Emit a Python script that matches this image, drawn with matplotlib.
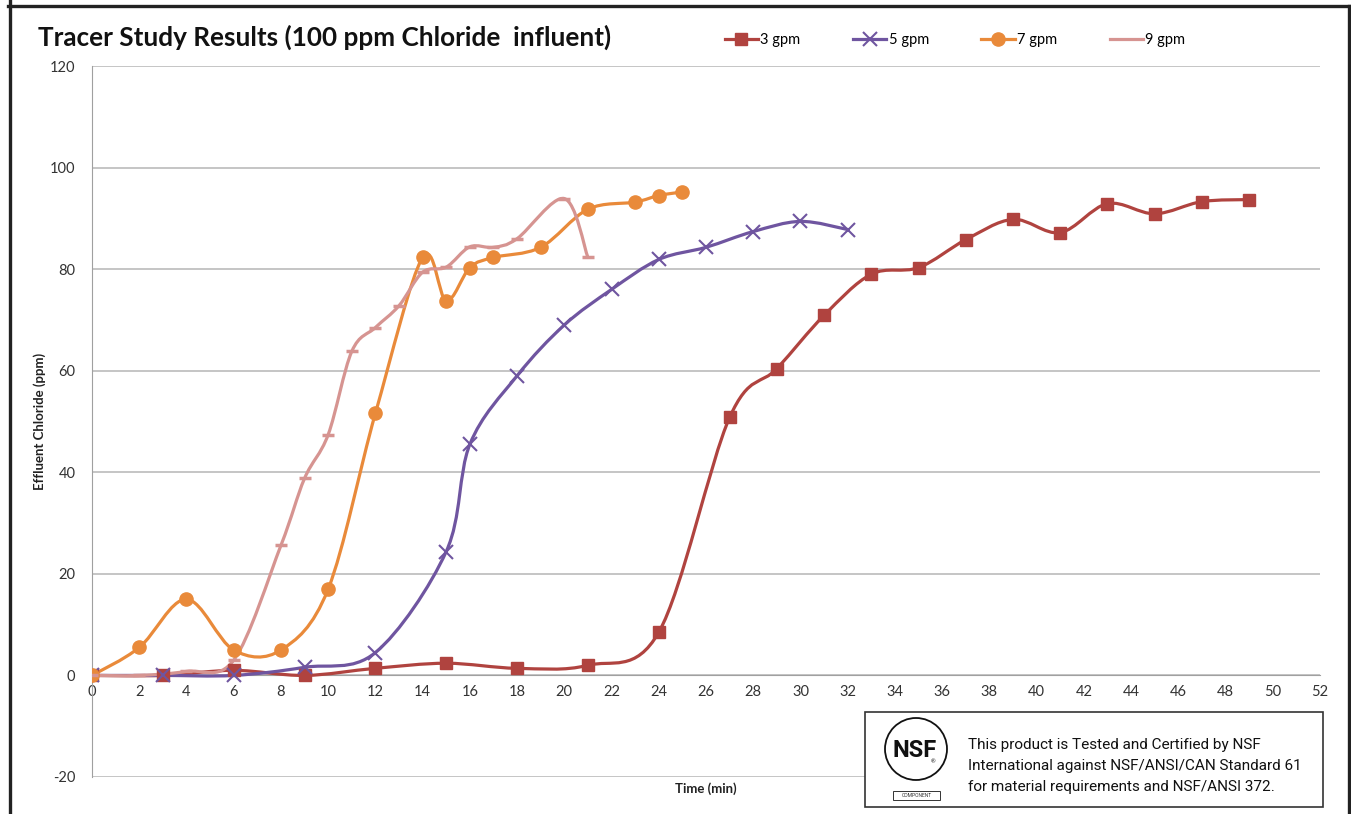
import numpy as np
import matplotlib
matplotlib.use('Agg')
import matplotlib.pyplot as plt
from matplotlib.path import Path
from matplotlib.patches import PathPatch, Rectangle, Circle
from matplotlib.lines import Line2D

# data
t3 = [0, 3, 6, 9, 12, 15, 18, 21, 24, 27, 29, 31, 33, 35, 37, 39, 41, 43, 45, 47, 49]
c3 = [0, 0, 1, 0, 1.4, 2.4, 1.4, 2, 8.5, 50.8, 60.4, 70.9, 79, 80.3, 85.8, 89.8, 87.2, 92.9, 90.9, 93.3, 93.7]

t5 = [0, 3, 6, 9, 12, 15, 16, 18, 20, 22, 24, 26, 28, 30, 32]
c5 = [0, 0, 0, 1.6, 4.5, 24.4, 45.5, 59, 69, 76, 81.9, 84.3, 87.4, 89.4, 87.8]

t7 = [0, 2, 4, 6, 8, 10, 12, 14, 15, 16, 17, 19, 21, 23, 24, 25]
c7 = [0, 5.5, 15, 5, 5, 17, 51.6, 82.3, 73.8, 80.3, 82.3, 84.3, 91.8, 93.2, 94.5, 95.2]

t9 = [0, 2, 4, 6, 8, 9, 10, 11, 12, 13, 14, 15, 16, 17, 18, 20, 21]
c9 = [0, 0, 0.8, 3, 25.6, 38.8, 47.4, 63.8, 68.5, 72.8, 79.4, 80.4, 84.4, 84.3, 86, 93.9, 82.3]

series = [
    ('3 gpm', t3, c3, '#B0433F', 's', 8.5, 1.0),
    ('5 gpm', t5, c5, '#6F55A0', 'x', 9.5, 1.5),
    ('7 gpm', t7, c7, '#E98A3A', 'o', 9.5, 1.0),
    ('9 gpm', t9, c9, '#D69491', '_', 8, 2.5),
]

x_ticks = list(range(0, 53, 2))
y_ticks = list(range(-20, 121, 20))

plt.rcParams['font.family'] = ['Lato', 'DejaVu Sans']
plt.rcParams['axes.unicode_minus'] = False


def smooth_path(x, y):
    # catmull-rom style bezier, like excel's smoothed lines
    pts = np.column_stack([x, y]).astype(float)
    verts = [pts[0]]
    codes = [Path.MOVETO]
    n = len(pts)
    for i in range(n - 1):
        p0 = pts[i - 1] if i > 0 else pts[i]
        p1 = pts[i]
        p2 = pts[i + 1]
        p3 = pts[i + 2] if i + 2 < n else pts[i + 1]
        verts += [p1 + (p2 - p0) / 6.0, p2 - (p3 - p1) / 6.0, p2]
        codes += [Path.CURVE4] * 3
    return Path(verts, codes)


fig = plt.figure(figsize=(13.51, 8.14), dpi=100)
ax = fig.add_axes([92 / 1351, 1 - 777 / 814, (1320 - 92) / 1351, (777 - 66) / 814])

handles = []
for name, tx, cy, col, mk, ms, mew in series:
    patch = PathPatch(smooth_path(tx, cy), facecolor='none', edgecolor=col, lw=2.3,
                      zorder=3, capstyle='round', joinstyle='round')
    ax.add_patch(patch)
    ax.plot(tx, cy, linestyle='none', marker=mk, markersize=ms, color=col,
            markeredgewidth=mew, zorder=4)
    handles.append(Line2D([], [], color=col, lw=2.3, marker=mk if mk != '_' else None,
                          markersize=ms, markeredgewidth=mew))

ax.set_xlim(0, 52)
ax.set_ylim(-20, 120)
ax.set_xticks(x_ticks)
ax.set_yticks(y_ticks)
ax.yaxis.grid(True, color='#B5B5B5', lw=1.1)
ax.set_axisbelow(True)
for s in ['top', 'right']:
    ax.spines[s].set_visible(False)
ax.spines['bottom'].set_position(('data', 0))
ax.spines['bottom'].set_color('#A0A0A0')
ax.spines['left'].set_color('#A0A0A0')
ax.tick_params(axis='both', length=0, labelsize=10.5, colors='#333333')
ax.tick_params(axis='y', pad=12)
ax.tick_params(axis='x', pad=7)

fig.text(706 / 1351, 1 - 789 / 814, 'Time (min)', ha='center', va='center',
         fontsize=9.5, fontweight='bold', color='#222222')
fig.text(40 / 1351, 1 - 421 / 814, 'Effluent Chloride (ppm)', rotation=90,
         ha='center', va='center', fontsize=9.5, fontweight='bold', color='#222222')

fig.text(38 / 1351, 1 - 37 / 814, 'Tracer Study Results (100 ppm Chloride  influent)',
         ha='left', va='center', fontsize=18.8, fontweight='bold', color='#111111')

fig.legend(handles, [s[0] for s in series], loc='center',
           bbox_to_anchor=(955 / 1351, 1 - 40 / 814), ncol=4, frameon=False,
           handlelength=2.3, handletextpad=0.15, columnspacing=3.6, fontsize=10.5)

# outer frame
for xs, ys in [([10, 10], [0, 814]), ([8, 1351], [6, 6]), ([1349, 1349], [6, 814])]:
    fig.add_artist(Line2D([x / 1351 for x in xs], [1 - y / 814 for y in ys],
                          color='#222222', lw=2.4, transform=fig.transFigure))

# NSF certification box
fig.add_artist(Rectangle((865 / 1351, 1 - 807 / 814), (1323 - 865) / 1351, (807 - 712) / 814,
                         transform=fig.transFigure, facecolor='white', edgecolor='#333333',
                         lw=1.2, zorder=5))
ax_logo = fig.add_axes([870 / 1351, 1 - 806 / 814, 92 / 1351, 92 / 814], zorder=6)
ax_logo.set_xlim(0, 92)
ax_logo.set_ylim(806, 714)
ax_logo.set_aspect('equal')
ax_logo.axis('off')
ax_logo.add_patch(Circle((46, 749), 31, facecolor='white', edgecolor='#111111', lw=1.3))
narrow = ['Roboto', 'DejaVu Sans']
ax_logo.text(45, 750, 'NSF', ha='center', va='center', fontsize=17, fontweight='bold',
             family=narrow, color='#111111')
ax_logo.text(63, 762, '®', ha='center', va='center', fontsize=4, color='#111111')
ax_logo.add_patch(Rectangle((23, 791), 47, 9, facecolor='white', edgecolor='#333333', lw=0.7))
ax_logo.text(46.5, 795.5, 'COMPONENT', ha='center', va='center', fontsize=3.6,
             family=narrow, color='#333333')

nsf_lines = ['This product is Tested and Certified by NSF',
             'International against NSF/ANSI/CAN Standard 61',
             'for material requirements and NSF/ANSI 372.']
for i, line in enumerate(nsf_lines):
    fig.text(968 / 1351, 1 - (745 + 21 * i) / 814, line, ha='left', va='center',
             fontsize=11, family=narrow, color='#111111', zorder=7)

fig.savefig('out.png', dpi=100)
